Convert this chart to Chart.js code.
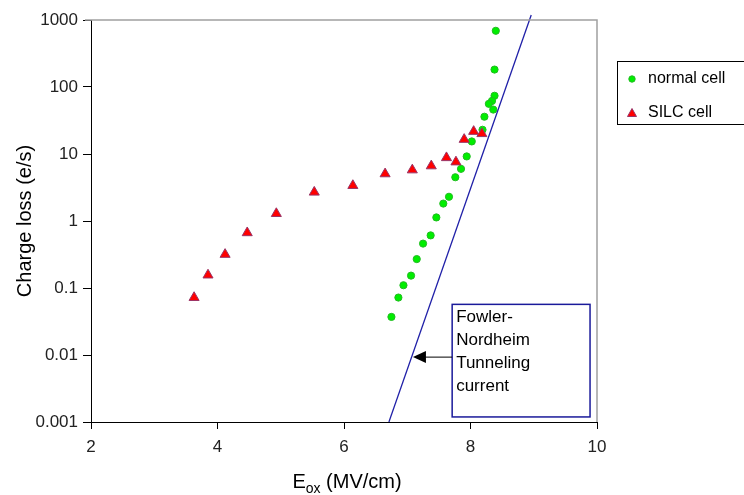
<!DOCTYPE html>
<html>
<head>
<meta charset="utf-8">
<script src="https://cdn.jsdelivr.net/npm/chart.js@4.4.1/dist/chart.umd.min.js"></script>
<style>
  html, body { margin: 0; padding: 0; background: #fff; }
  #wrap { width: 744px; height: 495px; position: relative; }
</style>
</head>
<body>
<div id="wrap"><canvas id="chart"></canvas></div>
<script>
// normal cell (green dots)
const normalX = [8.40, 8.38, 8.38, 8.34, 8.29, 8.36, 8.22, 8.19, 8.02, 7.94, 7.85, 7.76,
  7.66, 7.57, 7.46, 7.37, 7.25, 7.15, 7.06, 6.94, 6.86, 6.75];
const normalY = [690, 182, 74, 62, 56, 46, 36, 23, 15.4, 9.2, 6.0, 4.5,
  2.3, 1.82, 1.13, 0.61, 0.46, 0.27, 0.153, 0.11, 0.072, 0.037];

// SILC cell (red triangles)
const silcX = [3.63, 3.85, 4.12, 4.47, 4.93, 5.53, 6.14, 6.65, 7.08, 7.38, 7.62, 7.77, 7.90, 8.05, 8.18];
const silcY = [0.072, 0.156, 0.317, 0.667, 1.29, 2.69, 3.38, 5.05, 5.78, 6.64, 8.8, 7.6, 16.5, 21.7, 20.1];

// Fowler-Nordheim tunneling current line
const fnX = [6.71, 8.96];
const fnY = [0.001, 1190];

const yTicks = [0.001, 0.01, 0.1, 1, 10, 100, 1000];
const xTicks = [2, 4, 6, 8, 10];
const legendLabels = ["normal cell", "SILC cell"];
const noteLines = ["Fowler-", "Nordheim", "Tunneling", "current"];

const FONT = "'Liberation Sans', Arial, sans-serif";

function toPoints(xs, ys) {
  return xs.map((x, i) => ({ x: x, y: ys[i] }));
}

// extra drawing: frame, titles, legend box, annotation box
const decorPlugin = {
  id: "decor",
  afterDraw(chart) {
    const ctx = chart.ctx;
    const area = chart.chartArea;
    const xs = chart.scales.x;
    const ys = chart.scales.y;
    ctx.save();

    // gray frame top and right
    ctx.strokeStyle = "#a0a0a0";
    ctx.lineWidth = 1.5;
    ctx.beginPath();
    ctx.moveTo(area.left - 6, area.top);
    ctx.lineTo(area.right, area.top);
    ctx.lineTo(area.right, area.bottom);
    ctx.stroke();

    // y title
    ctx.fillStyle = "#000";
    ctx.font = "20px " + FONT;
    ctx.textAlign = "center";
    ctx.textBaseline = "middle";
    ctx.save();
    ctx.translate(25, (area.top + area.bottom) / 2);
    ctx.rotate(-Math.PI / 2);
    ctx.fillText("Charge loss (e/s)", 0, 0);
    ctx.restore();

    // x title with subscript
    ctx.textAlign = "left";
    ctx.textBaseline = "alphabetic";
    const big = "20px " + FONT, small = "14px " + FONT;
    ctx.font = big;
    const wE = ctx.measureText("E").width;
    const wRest = ctx.measureText(" (MV/cm)").width;
    ctx.font = small;
    const wSub = ctx.measureText("ox").width;
    let tx = (area.left + area.right) / 2 + 3 - (wE + wSub + wRest) / 2;
    const ty = 488;
    ctx.font = big;
    ctx.fillText("E", tx, ty);
    tx += wE;
    ctx.font = small;
    ctx.fillText("ox", tx, ty + 5);
    tx += wSub;
    ctx.font = big;
    ctx.fillText(" (MV/cm)", tx, ty);

    // legend
    ctx.strokeStyle = "#000";
    ctx.lineWidth = 1;
    ctx.strokeRect(617.5, 61.5, 140, 63);
    ctx.font = "16px " + FONT;
    ctx.textBaseline = "middle";
    const order = [2, 1];
    legendLabels.forEach((label, i) => {
      const ly = 79 + i * 33.5;
      const ds = chart.data.datasets[order[i]];
      ctx.fillStyle = ds.backgroundColor;
      ctx.strokeStyle = ds.borderColor;
      ctx.lineWidth = 1;
      ctx.beginPath();
      if (i === 0) {
        ctx.arc(632, ly, 3.2, 0, Math.PI * 2);
      } else {
        ctx.moveTo(632, ly - 4);
        ctx.lineTo(636.5, ly + 4);
        ctx.lineTo(627.5, ly + 4);
        ctx.closePath();
      }
      ctx.fill();
      ctx.stroke();
      ctx.fillStyle = "#000";
      ctx.fillText(label, 648, ly);
    });

    // Fowler-Nordheim note box
    const bx1 = xs.getPixelForValue(7.71), bx2 = xs.getPixelForValue(9.89);
    const by1 = ys.getPixelForValue(0.057), by2 = ys.getPixelForValue(0.00119);
    ctx.strokeStyle = "#1a1a9a";
    ctx.lineWidth = 1.5;
    ctx.strokeRect(bx1, by1, bx2 - bx1, by2 - by1);
    ctx.fillStyle = "#000";
    ctx.font = "17px " + FONT;
    ctx.textBaseline = "middle";
    noteLines.forEach((t, i) => {
      ctx.fillText(t, bx1 + 4, by1 + 13 + i * 23);
    });

    // arrow pointing at the line
    const ax = xs.getPixelForValue(7.09), ay = ys.getPixelForValue(0.0093);
    ctx.strokeStyle = "#000";
    ctx.lineWidth = 1;
    ctx.beginPath();
    ctx.moveTo(bx1, ay);
    ctx.lineTo(ax + 12, ay);
    ctx.stroke();
    ctx.fillStyle = "#000";
    ctx.beginPath();
    ctx.moveTo(ax, ay);
    ctx.lineTo(ax + 13, ay - 6);
    ctx.lineTo(ax + 13, ay + 6);
    ctx.closePath();
    ctx.fill();

    ctx.restore();
  }
};

new Chart(document.getElementById("chart"), {
  type: "scatter",
  data: {
    datasets: [
      {
        type: "line",
        label: "Fowler-Nordheim",
        data: toPoints(fnX, fnY),
        borderColor: "#2020a8",
        borderWidth: 1.3,
        pointRadius: 0,
        fill: false,
        clip: { left: 0, right: 0, bottom: 0, top: 6 },
        order: 0
      },
      {
        label: "SILC cell",
        data: toPoints(silcX, silcY),
        pointStyle: "triangle",
        pointRadius: 5.8,
        backgroundColor: "#ff0000",
        borderColor: "#993366",
        borderWidth: 1,
        order: 1
      },
      {
        label: "normal cell",
        data: toPoints(normalX, normalY),
        pointStyle: "circle",
        pointRadius: 3.6,
        backgroundColor: "#00ee00",
        borderColor: "#22bb22",
        borderWidth: 1,
        order: 2
      }
    ]
  },
  options: {
    responsive: true,
    maintainAspectRatio: false,
    animation: false,
    devicePixelRatio: 1,
    layout: { padding: { top: 20, right: 147, left: 0, bottom: 0 } },
    plugins: {
      legend: { display: false },
      tooltip: { enabled: false }
    },
    scales: {
      x: {
        type: "linear",
        min: 2,
        max: 10,
        afterFit(scale) { scale.height = 73; },
        afterBuildTicks(scale) { scale.ticks = xTicks.map(v => ({ value: v })); },
        border: { display: true, color: "#000", width: 1 },
        grid: { drawOnChartArea: false, drawTicks: true, tickLength: 7, color: "#000" },
        ticks: { font: { family: FONT, size: 17 }, color: "#222", padding: 8, maxRotation: 0 }
      },
      y: {
        type: "logarithmic",
        min: 0.001,
        max: 1000,
        afterFit(scale) { scale.width = 91; },
        afterBuildTicks(scale) { scale.ticks = yTicks.map(v => ({ value: v })); },
        border: { display: true, color: "#000", width: 1 },
        grid: { drawOnChartArea: false, drawTicks: true, tickLength: 8, color: "#000" },
        ticks: {
          font: { family: FONT, size: 17 },
          color: "#222",
          padding: 5,
          callback: v => String(v)
        }
      }
    }
  },
  plugins: [decorPlugin]
});
</script>
</body>
</html>
